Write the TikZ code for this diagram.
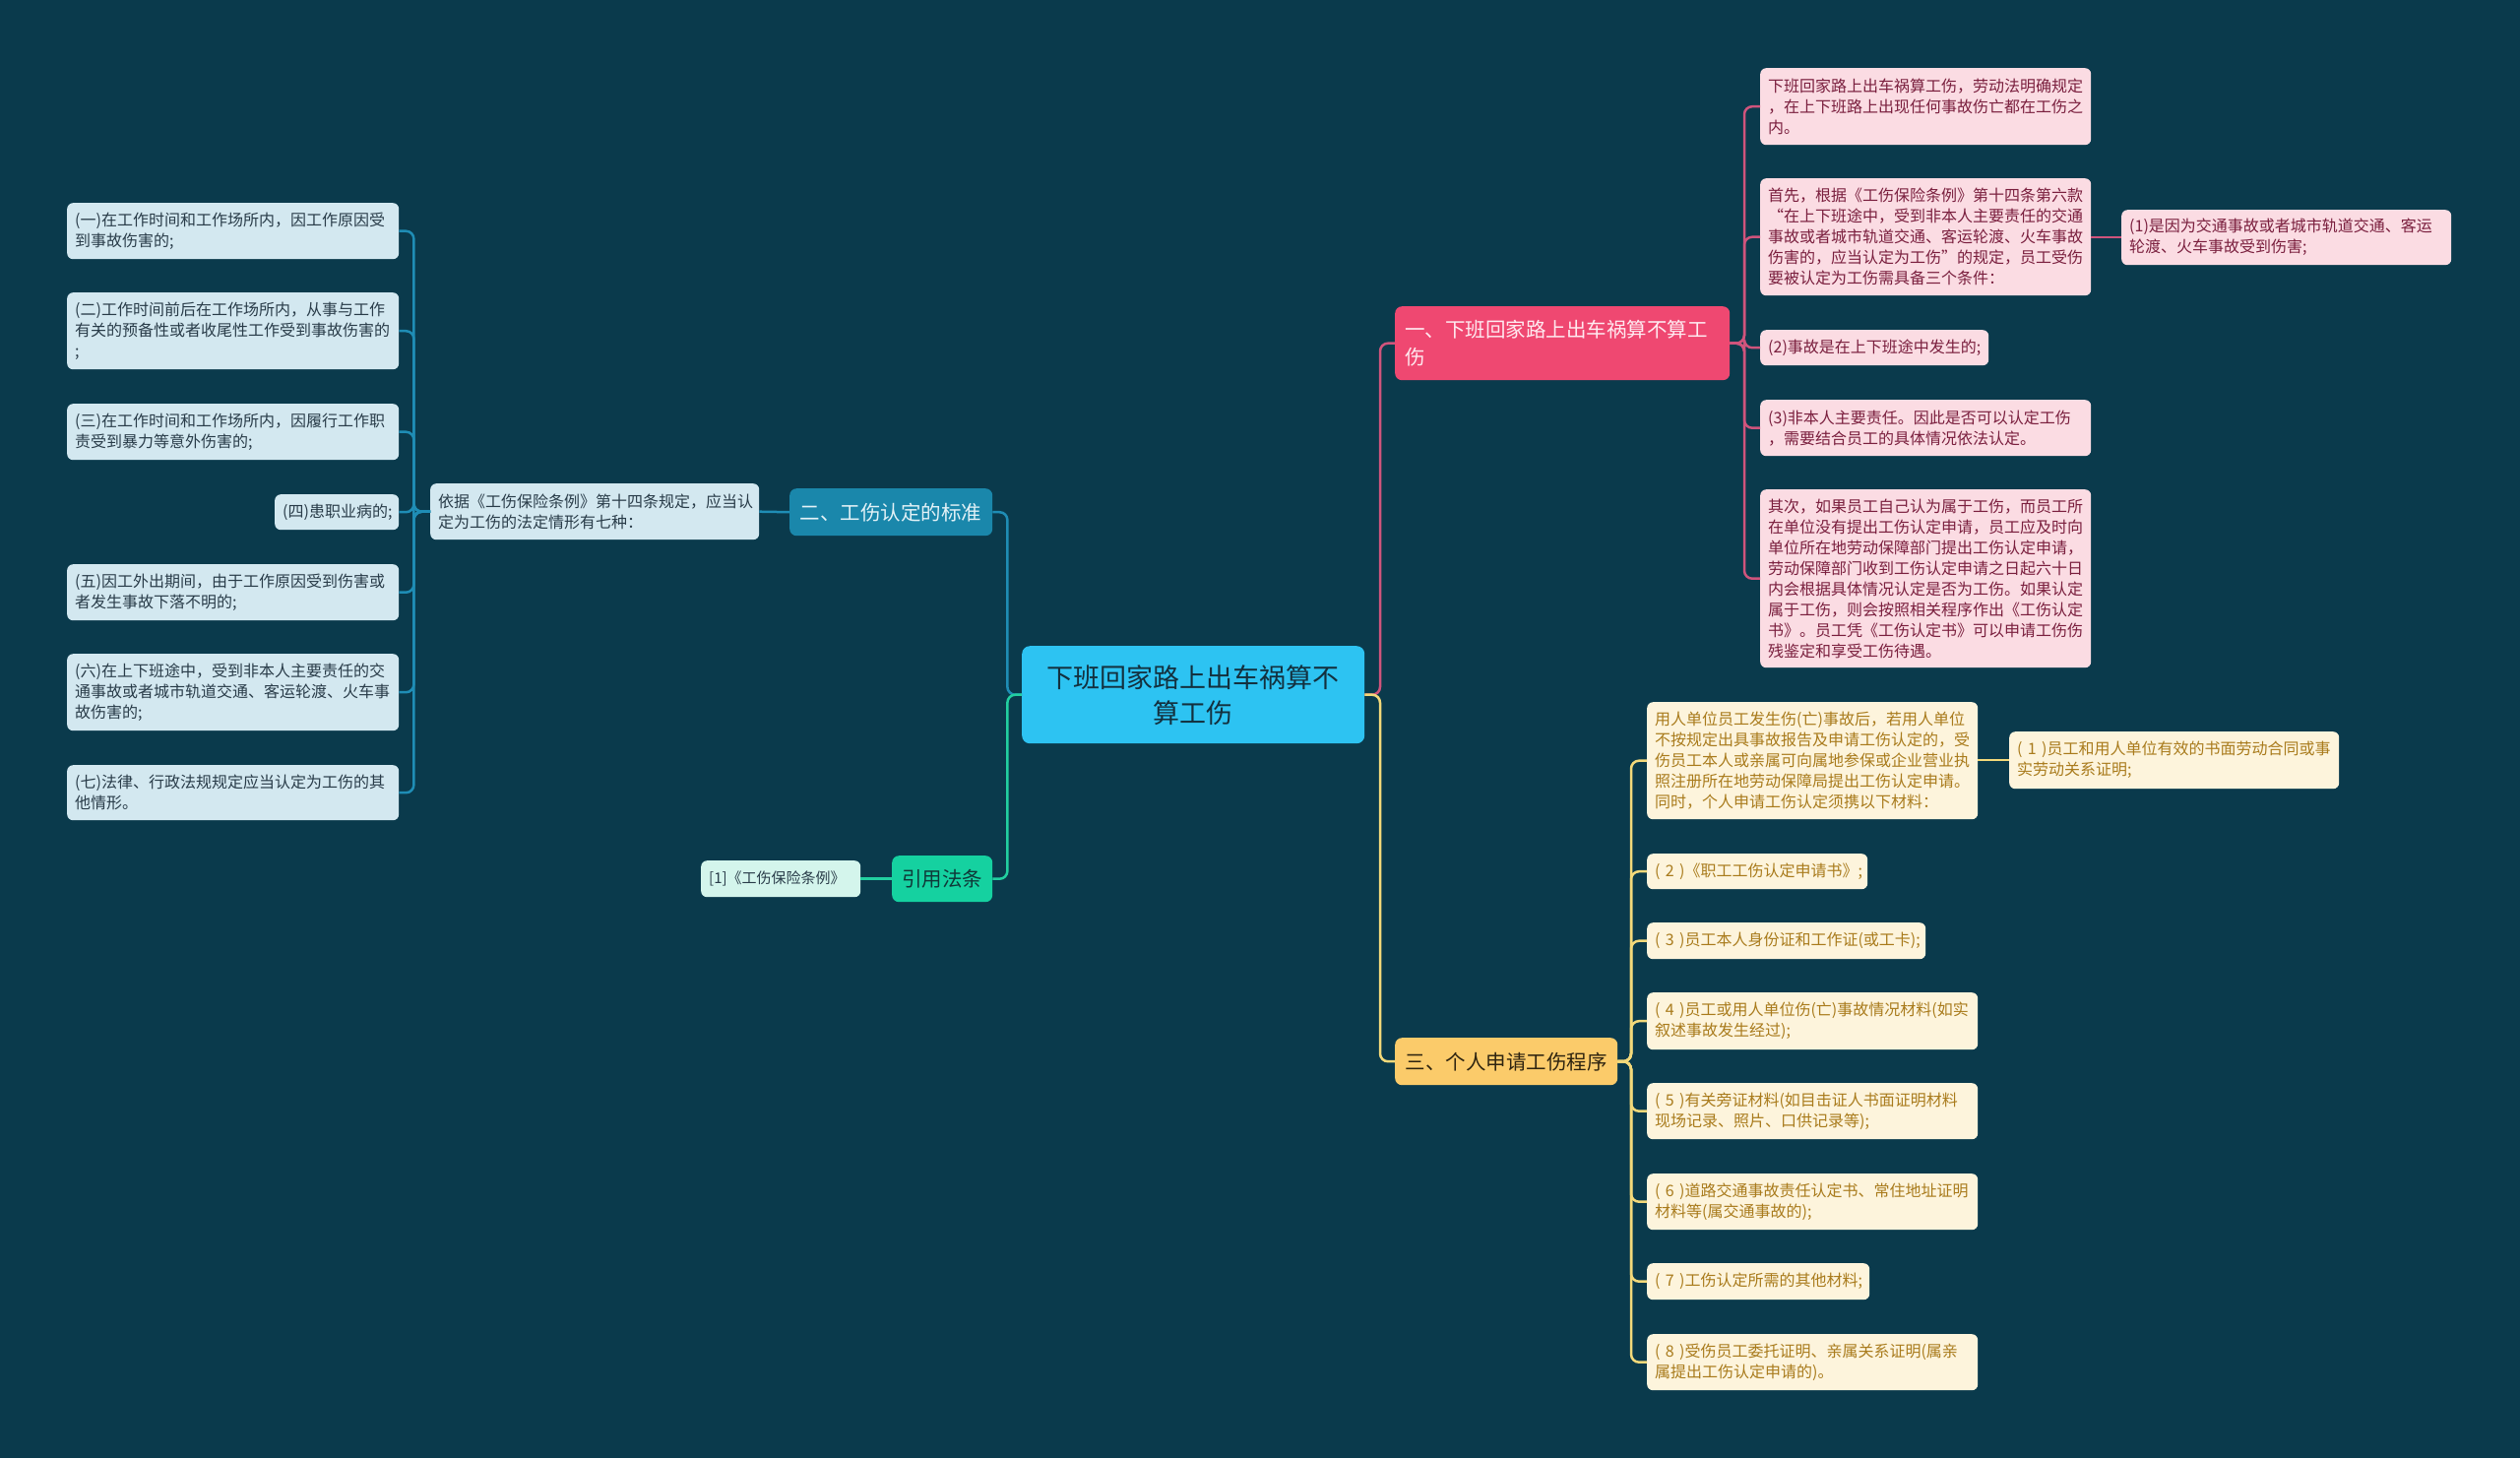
\documentclass[tikz,border=0pt]{standalone}
\usepackage{fontspec}
\setmainfont{Noto Sans CJK SC}
\definecolor{bg}{HTML}{0A3A4C}
\definecolor{rootfill}{HTML}{2DC3F2}
\definecolor{roottext}{HTML}{13303E}
\definecolor{bonefill}{HTML}{EF4871}
\definecolor{bonetext}{HTML}{FFEAF0}
\definecolor{btwofill}{HTML}{1A87AB}
\definecolor{btwotext}{HTML}{E3F2F7}
\definecolor{bthreefill}{HTML}{FBCB6A}
\definecolor{bthreetext}{HTML}{2E2410}
\definecolor{bcitefill}{HTML}{15D1A0}
\definecolor{bcitetext}{HTML}{0F3838}
\definecolor{pleaf}{HTML}{FBDCE3}
\definecolor{ptext}{HTML}{7A1F3E}
\definecolor{yleaf}{HTML}{FDF4DC}
\definecolor{ytext}{HTML}{A97B1C}
\definecolor{bleaf}{HTML}{D3E8F0}
\definecolor{btext}{HTML}{293C49}
\definecolor{cleaf}{HTML}{D4F5EC}
\definecolor{cpinkc}{HTML}{CF547C}
\definecolor{cyellowc}{HTML}{F3D97A}
\definecolor{cbluec}{HTML}{1F8DB5}
\definecolor{cgreenc}{HTML}{22CFA0}
\tikzset{
  box/.style={anchor=north west, inner xsep=8pt, inner ysep=0pt, rounded corners=6pt,
    align=left, font=\fontsize{16}{21}\selectfont},
  pinkleaf/.style={box, fill=pleaf, text=ptext},
  yellowleaf/.style={box, fill=yleaf, text=ytext},
  blueleaf/.style={box, fill=bleaf, text=btext},
  citeleaf/.style={box, fill=cleaf, text=btext, font=\fontsize{15}{20}\selectfont},
  branch/.style={anchor=north west, inner xsep=10pt, inner ysep=0pt, rounded corners=7pt,
    font=\fontsize{20.5}{28}\selectfont},
  conn/.style={line width=2.5pt, rounded corners=8pt},
  cpink/.style={conn, draw=cpinkc},
  cyellow/.style={conn, draw=cyellowc},
  cblue/.style={conn, draw=cbluec},
  cgreen/.style={conn, draw=cgreenc}
}
\begin{document}
\begin{tikzpicture}[x=1pt,y=-1pt]
\fill[bg] (0,0) rectangle (2560,1481);
\useasboundingbox (0,0) rectangle (2560,1481);

% root
\node[anchor=north west, fill=rootfill, text=roottext, rounded corners=8pt, inner sep=0pt,
  minimum width=348pt, minimum height=99pt, text width=330pt, align=center,
  font=\fontsize{27}{36}\selectfont] (root) at (1038,656) {下班回家路上出车祸算不\\算工伤};

% branches
\node[branch, fill=bonefill, text=bonetext, minimum width=340pt, minimum height=75pt,
  text width=320pt, align=left] (b1) at (1417,311) {一、下班回家路上出车祸算不算工\\伤};
\node[branch, fill=btwofill, text=btwotext, minimum width=206pt, minimum height=48pt,
  align=center, inner xsep=0pt] (b2) at (802,496) {二、工伤认定的标准};
\node[branch, fill=bcitefill, text=bcitetext, minimum width=102pt, minimum height=47pt,
  align=center, inner xsep=0pt] (cb) at (906,869) {引用法条};
\node[branch, fill=bthreefill, text=bthreetext, minimum width=226pt, minimum height=48pt,
  align=center, inner xsep=0pt] (b3) at (1417,1054) {三、个人申请工伤程序};

% branch 1 leaves
\node[pinkleaf, minimum width=336pt, minimum height=78pt, text width=320pt] (L1) at (1788,69)
  {下班回家路上出车祸算工伤，劳动法明确规定\\，在上下班路上出现任何事故伤亡都在工伤之\\内。};
\node[pinkleaf, minimum width=336pt, minimum height=119pt, text width=320pt] (L2) at (1788,181)
  {首先，根据《工伤保险条例》第十四条第六款\\“在上下班途中，受到非本人主要责任的交通\\事故或者城市轨道交通、客运轮渡、火车事故\\伤害的，应当认定为工伤”的规定，员工受伤\\要被认定为工伤需具备三个条件：};
\node[pinkleaf, minimum width=335pt, minimum height=56pt, text width=319pt] (L2a) at (2155,213)
  {(1)是因为交通事故或者城市轨道交通、客运\\轮渡、火车事故受到伤害;};
\node[pinkleaf, minimum width=232pt, minimum height=36pt, text width=216pt] (L3) at (1788,335)
  {(2)事故是在上下班途中发生的;};
\node[pinkleaf, minimum width=336pt, minimum height=57pt, text width=320pt] (L4) at (1788,406)
  {(3)非本人主要责任。因此是否可以认定工伤\\，需要结合员工的具体情况依法认定。};
\node[pinkleaf, minimum width=336pt, minimum height=181pt, text width=320pt] (L5) at (1788,497)
  {其次，如果员工自己认为属于工伤，而员工所\\在单位没有提出工伤认定申请，员工应及时向\\单位所在地劳动保障部门提出工伤认定申请，\\劳动保障部门收到工伤认定申请之日起六十日\\内会根据具体情况认定是否为工伤。如果认定\\属于工伤，则会按照相关程序作出《工伤认定\\书》。员工凭《工伤认定书》可以申请工伤伤\\残鉴定和享受工伤待遇。};

% branch 3 leaves
\node[yellowleaf, minimum width=336pt, minimum height=119pt, text width=320pt] (Y1) at (1673,713)
  {用人单位员工发生伤(亡)事故后，若用人单位\\不按规定出具事故报告及申请工伤认定的，受\\伤员工本人或亲属可向属地参保或企业营业执\\照注册所在地劳动保障局提出工伤认定申请。\\同时，个人申请工伤认定须携以下材料：};
\node[yellowleaf, minimum width=335pt, minimum height=58pt, text width=319pt] (Y1a) at (2041,743)
  {(~1~)员工和用人单位有效的书面劳动合同或事\\实劳动关系证明;};
\node[yellowleaf, minimum width=224pt, minimum height=36pt, text width=208pt] (Y2) at (1673,867)
  {\mbox{(~2~)《职工工伤认定申请书》;}};
\node[yellowleaf, minimum width=283pt, minimum height=37pt, text width=267pt] (Y3) at (1673,937)
  {\mbox{(~3~)员工本人身份证和工作证(或工卡);}};
\node[yellowleaf, minimum width=336pt, minimum height=58pt, text width=320pt] (Y4) at (1673,1008)
  {(~4~)员工或用人单位伤(亡)事故情况材料(如实\\叙述事故发生经过);};
\node[yellowleaf, minimum width=336pt, minimum height=57pt, text width=320pt] (Y5) at (1673,1100)
  {(~5~)有关旁证材料(如目击证人书面证明材料\\现场记录、照片、口供记录等);};
\node[yellowleaf, minimum width=336pt, minimum height=57pt, text width=320pt] (Y6) at (1673,1192)
  {(~6~)道路交通事故责任认定书、常住地址证明\\材料等(属交通事故的);};
\node[yellowleaf, minimum width=226pt, minimum height=37pt, text width=210pt] (Y7) at (1673,1283)
  {\mbox{(~7~)工伤认定所需的其他材料;}};
\node[yellowleaf, minimum width=336pt, minimum height=57pt, text width=320pt] (Y8) at (1673,1355)
  {(~8~)受伤员工委托证明、亲属关系证明(属亲\\属提出工伤认定申请的)。};

% branch 2 nodes
\node[blueleaf, minimum width=334pt, minimum height=57pt, text width=318pt] (B2c) at (437,491)
  {依据《工伤保险条例》第十四条规定，应当认\\定为工伤的法定情形有七种：};
\node[blueleaf, minimum width=337pt, minimum height=57pt, text width=321pt] (E1) at (68,206)
  {(一)在工作时间和工作场所内，因工作原因受\\到事故伤害的;};
\node[blueleaf, minimum width=337pt, minimum height=78pt, text width=321pt] (E2) at (68,297)
  {(二)工作时间前后在工作场所内，从事与工作\\有关的预备性或者收尾性工作受到事故伤害的\\;};
\node[blueleaf, minimum width=337pt, minimum height=57pt, text width=321pt] (E3) at (68,410)
  {(三)在工作时间和工作场所内，因履行工作职\\责受到暴力等意外伤害的;};
\node[blueleaf, minimum width=126pt, minimum height=36pt, text width=110pt] (E4) at (279,502)
  {(四)患职业病的;};
\node[blueleaf, minimum width=337pt, minimum height=57pt, text width=321pt] (E5) at (68,573)
  {(五)因工外出期间，由于工作原因受到伤害或\\者发生事故下落不明的;};
\node[blueleaf, minimum width=337pt, minimum height=78pt, text width=321pt] (E6) at (68,664)
  {(六)在上下班途中，受到非本人主要责任的交\\通事故或者城市轨道交通、客运轮渡、火车事\\故伤害的;};
\node[blueleaf, minimum width=337pt, minimum height=56pt, text width=321pt] (E7) at (68,777)
  {(七)法律、行政法规规定应当认定为工伤的其\\他情形。};

% citation
\node[citeleaf, minimum width=162pt, minimum height=37pt, text width=146pt] (cite) at (712,874)
  {[1]《工伤保险条例》};

% connectors: root
\draw[cpink] (root.east) -| ([xshift=-15pt]b1.west) -- (b1.west);
\draw[cyellow] (root.east) -| ([xshift=-15pt]b3.west) -- (b3.west);
\draw[cblue] (root.west) -| ([xshift=15pt]b2.east) -- (b2.east);
\draw[cgreen] (root.west) -| ([xshift=15pt]cb.east) -- (cb.east);

% branch 1
\foreach \n in {L1,L2,L3,L4,L5}
  \draw[cpink] (b1.east) -| ([xshift=-16pt]\n.west) -- (\n.west);
\draw[cpink] (L2a.west -| L2.east) -- (L2a.west);

% branch 3
\foreach \n in {Y1,Y2,Y3,Y4,Y5,Y6,Y7,Y8}
  \draw[cyellow] (b3.east) -| ([xshift=-16pt]\n.west) -- (\n.west);
\draw[cyellow] (Y1a.west -| Y1.east) -- (Y1a.west);

% branch 2
\draw[cblue] (b2.west) -- (B2c.east);
\foreach \n in {E1,E2,E3,E4,E5,E6,E7}
  \draw[cblue] (B2c.west) -| ([xshift=15pt]\n.east) -- (\n.east);

% citation
\draw[cgreen] (cb.west) -- (cite.east);
\end{tikzpicture}
\end{document}
